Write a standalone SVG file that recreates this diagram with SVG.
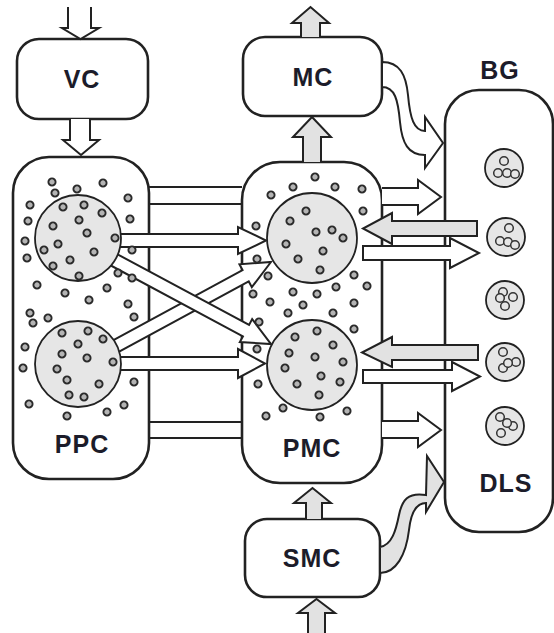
<svg xmlns="http://www.w3.org/2000/svg" width="554" height="633" viewBox="0 0 554 633">
<style>
.box{fill:#fff;stroke:#222;stroke-width:2.6}
.lbl{font-family:"Liberation Sans",Arial,sans-serif;font-weight:bold;font-size:25px;fill:#1c1c2a;text-anchor:middle;letter-spacing:1px}
.w{fill:#fff;stroke:#222;stroke-width:2;stroke-linejoin:miter}
.g{fill:#e2e2e2;stroke:#222;stroke-width:2;stroke-linejoin:miter}
.ln{fill:none;stroke:#222;stroke-width:2}
.cl{fill:#e6e6e6;stroke:#222;stroke-width:1.8}
.d{fill:#b4b4b4;stroke:#2a2a2a;stroke-width:1.9}
.bc{fill:#e6e6e6;stroke:#222;stroke-width:1.8}
.bi{fill:#e6e6e6;stroke:#333;stroke-width:1.5}
</style>
<defs>
<circle id="dt" r="3.6" class="d"/>
<circle id="bi" r="4.3" class="bi"/>
</defs>

<g id="vc"><rect class="box" x="17" y="39" width="131" height="80" rx="22"/><text class="lbl" x="82" y="88">VC</text></g>
<g id="mc"><rect class="box" x="243" y="37" width="139" height="79" rx="22"/><text class="lbl" x="313" y="86">MC</text></g>
<g id="smc"><rect class="box" x="245" y="519" width="135" height="78" rx="22"/><text class="lbl" x="312" y="567">SMC</text></g>
<g id="ppc"><rect class="box" x="13" y="157" width="136" height="322" rx="36"/><text class="lbl" x="82" y="453">PPC</text></g>
<g id="pmc"><rect class="box" x="242" y="162" width="140" height="321" rx="38"/><text class="lbl" x="312" y="457">PMC</text></g>
<g id="bg"><rect class="box" x="445" y="90" width="108" height="442" rx="34"/><text class="lbl" x="500" y="79">BG</text><text class="lbl" x="506" y="492">DLS</text>
<g id="bg-cells">
<circle class="bc" cx="504" cy="168" r="19"/><use href="#bi" x="504" y="161"/><use href="#bi" x="498" y="173"/><use href="#bi" x="507" y="173"/><use href="#bi" x="515" y="174"/>
<circle class="bc" cx="506" cy="237" r="19"/><use href="#bi" x="509" y="228"/><use href="#bi" x="500" y="241"/><use href="#bi" x="508" y="242"/><use href="#bi" x="515" y="245"/>
<circle class="bc" cx="505" cy="300" r="19"/><use href="#bi" x="503" y="292"/><use href="#bi" x="513" y="297"/><use href="#bi" x="505" y="306"/><use href="#bi" x="500" y="298"/>
<circle class="bc" cx="505" cy="362" r="19"/><use href="#bi" x="503" y="352"/><use href="#bi" x="516" y="362"/><use href="#bi" x="503" y="368"/><use href="#bi" x="508" y="363"/>
<circle class="bc" cx="505" cy="426" r="19"/><use href="#bi" x="500" y="417"/><use href="#bi" x="513" y="426"/><use href="#bi" x="501" y="433"/><use href="#bi" x="507" y="423"/>
</g></g>

<g id="connectors">
<path class="w" d="M68,7 V28 H62 L80.5,39 L99,28 H91 V7"/>
<path class="w" d="M70,119 V140 H63 L81,155 L99,140 H90 V119"/>
<path class="g" d="M301,37 V23 H292 L310.5,7 L329,23 H320 V37"/>
<path class="g" d="M303,162 V137 H293 L312,117 L331,137 H321 V162"/>
<path class="g" d="M306,519 V503 H294 L312.5,488 L331,503 H322 V519"/>
<path class="g" d="M308,640 V613 H298 L316.5,599 L335,613 H325 V640"/>
<path class="ln" d="M149,187 H242 M149,204 H242 M149,422 H242 M149,438 H242"/>
<polygon class="w" points="110,234 238,234 238,227 266,240.5 238,254 238,247 110,247"/>
<polygon class="w" points="110,357 238,357 238,349 265,363.5 238,378 238,370 110,370"/>
<polygon class="w" transform="translate(105,352) rotate(-28.47)" points="0,-6.5 160,-6.5 160,-13 188.8,0 160,13 160,6.5 0,6.5"/>
<polygon class="w" transform="translate(105,255) rotate(28.2)" points="0,-6.5 160,-6.5 160,-13 188.4,0 160,13 160,6.5 0,6.5"/>
<path class="w" d="M382,188 H418 V180 L441,197 L418,214 V205 H382"/>
<path class="w" d="M382,421 H418 V413 L441,430 L418,447 V438 H382"/>
<polygon class="g" points="477,221 392,221 392,213 363,228.5 392,244 392,236 477,236"/>
<polygon class="w" points="363,246 450,246 450,238 479,253 450,268 450,260 363,260"/>
<polygon class="g" points="478,345 392,345 392,337 362,352.5 392,367 392,360 478,360"/>
<polygon class="w" points="363,370 452,370 452,362 480,376.5 452,391 452,383 363,383"/>
<path class="w" d="M382,62 C400,62 406,75 408,95 C410,118 414,131 425,131 L425,117 L443,143 L425,168 L425,155 C408,155 402,143 400,122 C398,100 395,87 382,87 Z"/>
<path class="g" d="M380,547 C392,545 396,530 399,515 C402,500 408,492 426,495 L427,456 L444,482 L426,512 L426,503 C416,503 411,512 409,530 C406,555 396,573 380,573 Z"/>
</g>

<g id="ppc-cells">
<circle class="cl" cx="78" cy="238" r="43"/>
<circle class="cl" cx="78" cy="364" r="43"/>
<use href="#dt" x="52" y="182"/><use href="#dt" x="55" y="193"/><use href="#dt" x="77" y="189"/><use href="#dt" x="103" y="183"/><use href="#dt" x="128" y="198"/>
<use href="#dt" x="30" y="205"/><use href="#dt" x="63" y="207"/><use href="#dt" x="84" y="205"/><use href="#dt" x="102" y="213"/><use href="#dt" x="28" y="221"/>
<use href="#dt" x="79" y="220"/><use href="#dt" x="130" y="219"/><use href="#dt" x="53" y="226"/><use href="#dt" x="87" y="233"/><use href="#dt" x="25" y="241"/>
<use href="#dt" x="58" y="244"/><use href="#dt" x="115" y="238"/><use href="#dt" x="44" y="250"/><use href="#dt" x="94" y="252"/><use href="#dt" x="132" y="250"/>
<use href="#dt" x="27" y="258"/><use href="#dt" x="70" y="260"/><use href="#dt" x="53" y="266"/><use href="#dt" x="79" y="276"/><use href="#dt" x="118" y="273"/>
<use href="#dt" x="132" y="278"/><use href="#dt" x="37" y="285"/><use href="#dt" x="65" y="293"/><use href="#dt" x="107" y="288"/><use href="#dt" x="89" y="300"/>
<use href="#dt" x="128" y="304"/><use href="#dt" x="30" y="313"/><use href="#dt" x="33" y="323"/><use href="#dt" x="48" y="318"/><use href="#dt" x="134" y="317"/>
<use href="#dt" x="62" y="333"/><use href="#dt" x="88" y="331"/><use href="#dt" x="103" y="339"/><use href="#dt" x="78" y="344"/><use href="#dt" x="25" y="347"/>
<use href="#dt" x="62" y="354"/><use href="#dt" x="87" y="358"/><use href="#dt" x="113" y="362"/><use href="#dt" x="23" y="368"/>
<use href="#dt" x="57" y="369"/><use href="#dt" x="67" y="380"/><use href="#dt" x="99" y="384"/><use href="#dt" x="134" y="382"/><use href="#dt" x="69" y="395"/>
<use href="#dt" x="84" y="397"/><use href="#dt" x="29" y="404"/><use href="#dt" x="124" y="405"/><use href="#dt" x="107" y="412"/><use href="#dt" x="67" y="416"/>
</g>

<g id="pmc-cells">
<circle class="cl" cx="312" cy="238" r="45"/>
<circle class="cl" cx="312" cy="365" r="45"/>
<use href="#dt" x="315" y="177"/><use href="#dt" x="293" y="187"/><use href="#dt" x="335" y="187"/><use href="#dt" x="271" y="195"/><use href="#dt" x="362" y="189"/>
<use href="#dt" x="363" y="211"/><use href="#dt" x="306" y="211"/><use href="#dt" x="290" y="221"/><use href="#dt" x="256" y="226"/><use href="#dt" x="316" y="232"/>
<use href="#dt" x="332" y="230"/><use href="#dt" x="343" y="238"/><use href="#dt" x="286" y="244"/><use href="#dt" x="323" y="251"/><use href="#dt" x="257" y="259"/>
<use href="#dt" x="298" y="259"/><use href="#dt" x="320" y="270"/><use href="#dt" x="268" y="276"/><use href="#dt" x="354" y="275"/><use href="#dt" x="367" y="286"/>
<use href="#dt" x="336" y="287"/><use href="#dt" x="293" y="292"/><use href="#dt" x="317" y="294"/><use href="#dt" x="253" y="294"/><use href="#dt" x="270" y="302"/>
<use href="#dt" x="303" y="305"/><use href="#dt" x="354" y="303"/><use href="#dt" x="288" y="313"/><use href="#dt" x="333" y="313"/><use href="#dt" x="259" y="322"/>
<use href="#dt" x="354" y="329"/><use href="#dt" x="317" y="331"/><use href="#dt" x="295" y="337"/><use href="#dt" x="333" y="345"/><use href="#dt" x="257" y="349"/>
<use href="#dt" x="289" y="353"/><use href="#dt" x="315" y="357"/><use href="#dt" x="343" y="362"/><use href="#dt" x="285" y="368"/><use href="#dt" x="321" y="376"/>
<use href="#dt" x="340" y="382"/><use href="#dt" x="258" y="384"/><use href="#dt" x="297" y="384"/><use href="#dt" x="319" y="395"/><use href="#dt" x="283" y="408"/>
<use href="#dt" x="347" y="411"/><use href="#dt" x="266" y="416"/><use href="#dt" x="320" y="417"/>
</g>
</svg>
